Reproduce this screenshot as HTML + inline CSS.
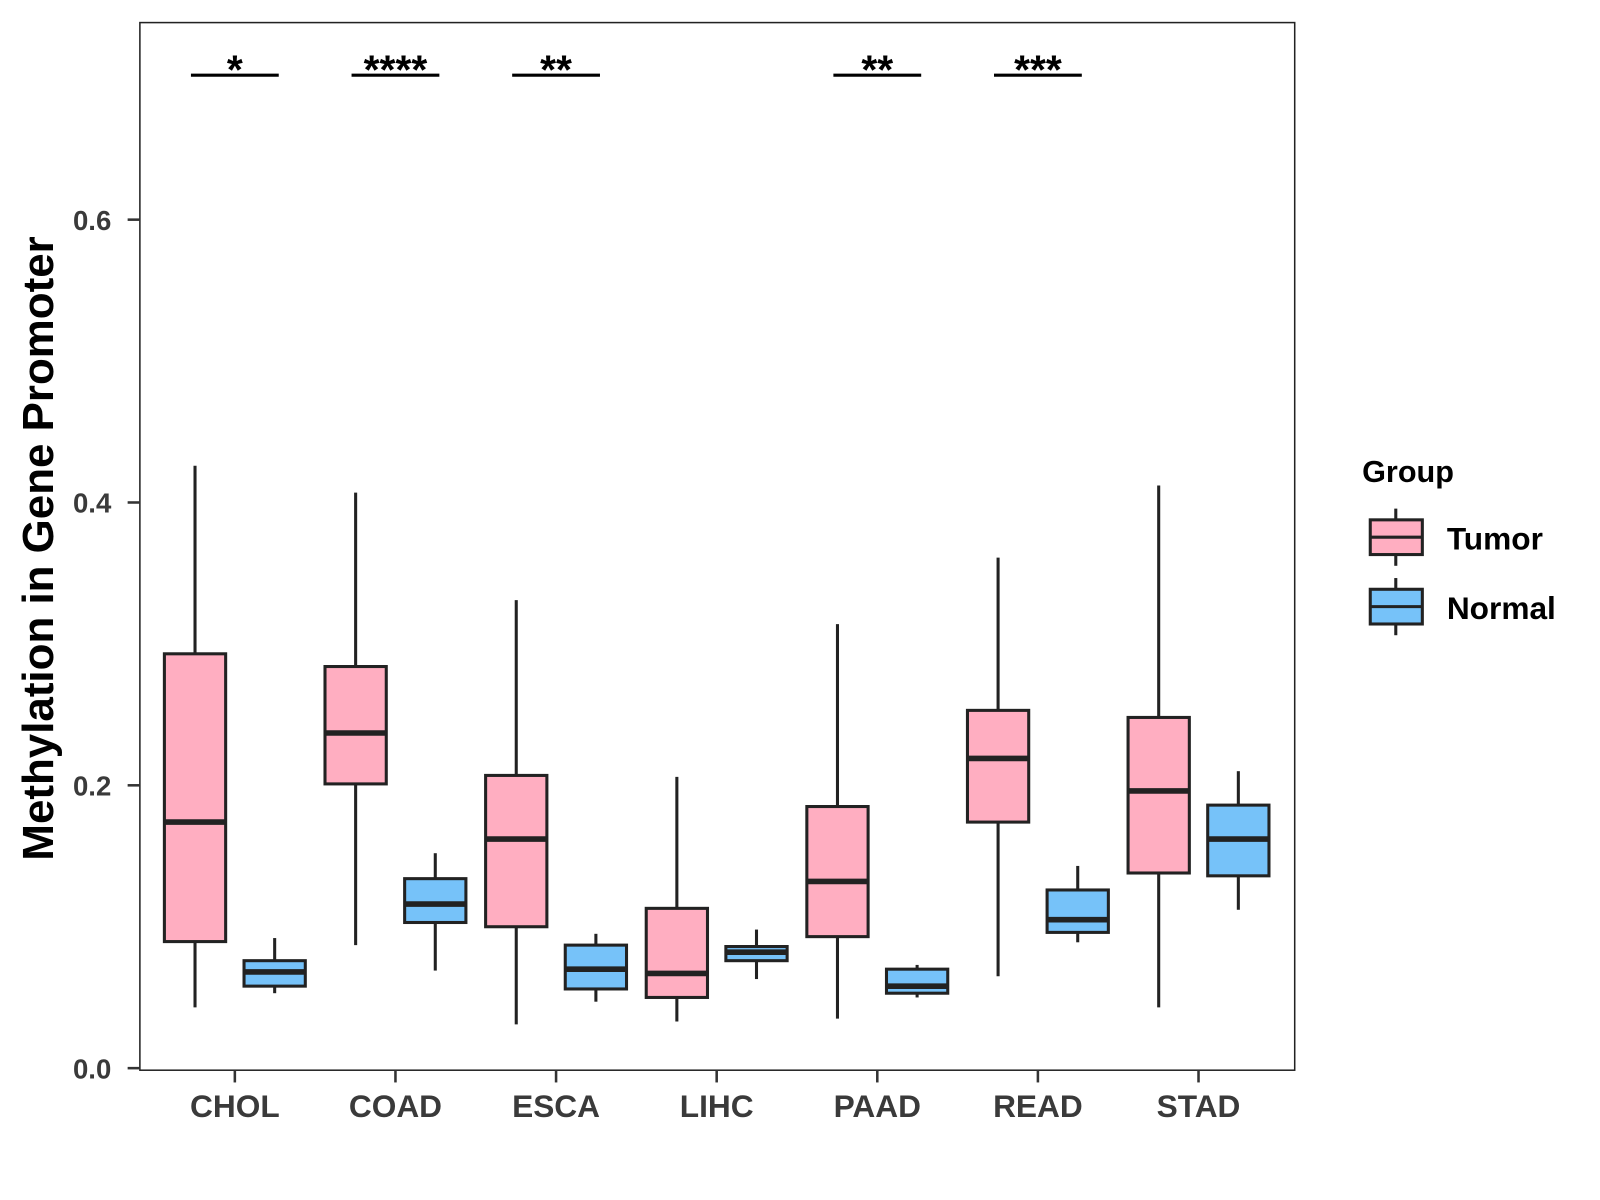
<!DOCTYPE html>
<html><head><meta charset="utf-8"><style>
html,body{margin:0;padding:0;background:#fff;}
svg{display:block;font-family:"Liberation Sans",Arial,sans-serif;}
</style></head><body>
<svg id="chart" width="1600" height="1200" viewBox="0 0 1567 1175" xmlns="http://www.w3.org/2000/svg">
<rect x="0" y="0" width="1567" height="1175" fill="#fff"/>
<g id="plot"></g>
<text transform="translate(52,537) rotate(-90)" text-anchor="middle" font-size="43" font-weight="bold" fill="#000">Methylation in Gene Promoter</text>
<g>
<text x="1334" y="472" font-size="30" font-weight="bold">Group</text>
<g>
<line x1="1367" y1="498" x2="1367" y2="554" stroke="#222" stroke-width="3"/>
<rect x="1342" y="509" width="51" height="34" fill="#FFAEC1" stroke="#222" stroke-width="3"/>
<line x1="1342" y1="526" x2="1393" y2="526" stroke="#222" stroke-width="3"/>
<text x="1417" y="538" font-size="31" font-weight="bold">Tumor</text>
</g>
<g>
<line x1="1367" y1="566" x2="1367" y2="622" stroke="#222" stroke-width="3"/>
<rect x="1342" y="577" width="51" height="34" fill="#76C2F9" stroke="#222" stroke-width="3"/>
<line x1="1342" y1="594" x2="1393" y2="594" stroke="#222" stroke-width="3"/>
<text x="1417" y="606" font-size="31" font-weight="bold">Normal</text>
</g>
</g>
</svg>
<script>
const categories = ["CHOL","COAD","ESCA","LIHC","PAAD","READ","STAD"];
// [low whisker, q1, median, q3, high whisker]
const tumorStats = [
 [0.043,0.0895,0.174,0.293,0.426],
 [0.087,0.201,0.237,0.284,0.407],
 [0.031,0.100,0.162,0.207,0.331],
 [0.033,0.050,0.067,0.113,0.206],
 [0.035,0.093,0.132,0.185,0.314],
 [0.065,0.174,0.219,0.253,0.361],
 [0.043,0.138,0.196,0.248,0.412]
];
const normalStats = [
 [0.053,0.058,0.068,0.076,0.092],
 [0.069,0.103,0.116,0.134,0.152],
 [0.047,0.056,0.070,0.087,0.095],
 [0.063,0.076,0.082,0.086,0.098],
 [0.050,0.053,0.058,0.070,0.073],
 [0.089,0.096,0.105,0.126,0.143],
 [0.112,0.136,0.162,0.186,0.210]
];
const sigLabels = ["*","****","**","","**","***",""];
const yTicks = [0,0.2,0.4,0.6];
const yTickLabels = ["0.0","0.2","0.4","0.6"];
const sigLevel = 0.70;

const NS = "http://www.w3.org/2000/svg";
const g = document.getElementById("plot");
const P = {l:137,r:1268,t:22,b:1048};
function y(v){ return 1046 - v*1385; }
function x(i){ return 230 + i*157.3; }
function el(tag, attrs, parent){
  const e = document.createElementNS(NS, tag);
  for (const k in attrs) e.setAttribute(k, attrs[k]);
  (parent||g).appendChild(e);
  return e;
}
const panel = el("rect",{x:P.l,y:P.t,width:P.r-P.l,height:P.b-P.t,fill:"none",stroke:"#222","stroke-width":1.5});


yTicks.forEach((v,i)=>{
  const t = el("line",{x1:P.l-12,x2:P.l,y1:y(v),y2:y(v),stroke:"#333","stroke-width":2.5});
  
  
  const lb = el("text",{x:P.l-28,y:y(v)+10,"text-anchor":"end","font-size":27,"font-weight":"bold",fill:"#3a3a3a"});
  lb.textContent = yTickLabels[i];
  
  
});
function box(cx, s, fill, name){
  const grp = el("g",{});
  
  
  const w = 60;
  el("line",{x1:cx,x2:cx,y1:y(s[0]),y2:y(s[1]),stroke:"#222","stroke-width":3},grp);
  el("line",{x1:cx,x2:cx,y1:y(s[3]),y2:y(s[4]),stroke:"#222","stroke-width":3},grp);
  el("rect",{x:cx-w/2,y:y(s[3]),width:w,height:y(s[1])-y(s[3]),fill:fill,stroke:"#222","stroke-width":3},grp);
  el("line",{x1:cx-w/2,x2:cx+w/2,y1:y(s[2]),y2:y(s[2]),stroke:"#222","stroke-width":5.5},grp);
}
categories.forEach((c,i)=>{
  const cx = x(i);
  box(cx-39, tumorStats[i], "#FFAEC1", "box-tumor-"+c.toLowerCase());
  box(cx+39, normalStats[i], "#76C2F9", "box-normal-"+c.toLowerCase());
  const t = el("line",{x1:cx,x2:cx,y1:P.b,y2:P.b+12,stroke:"#333","stroke-width":2.5});
  
  
  const lb = el("text",{x:cx,y:1094,"text-anchor":"middle","font-size":31,"font-weight":"bold",fill:"#3a3a3a"});
  lb.textContent = c;
  
  
  if (sigLabels[i]){
    const by = y(sigLevel) - 3;
    const sl = el("line",{x1:cx-43,x2:cx+43,y1:by,y2:by,stroke:"#000","stroke-width":3});
    
    
    const st = el("text",{x:cx,y:by+8,"text-anchor":"middle","font-size":40,"font-weight":"bold",fill:"#000"});
    st.textContent = sigLabels[i];
    
    
  }
});
</script>
</body></html>
